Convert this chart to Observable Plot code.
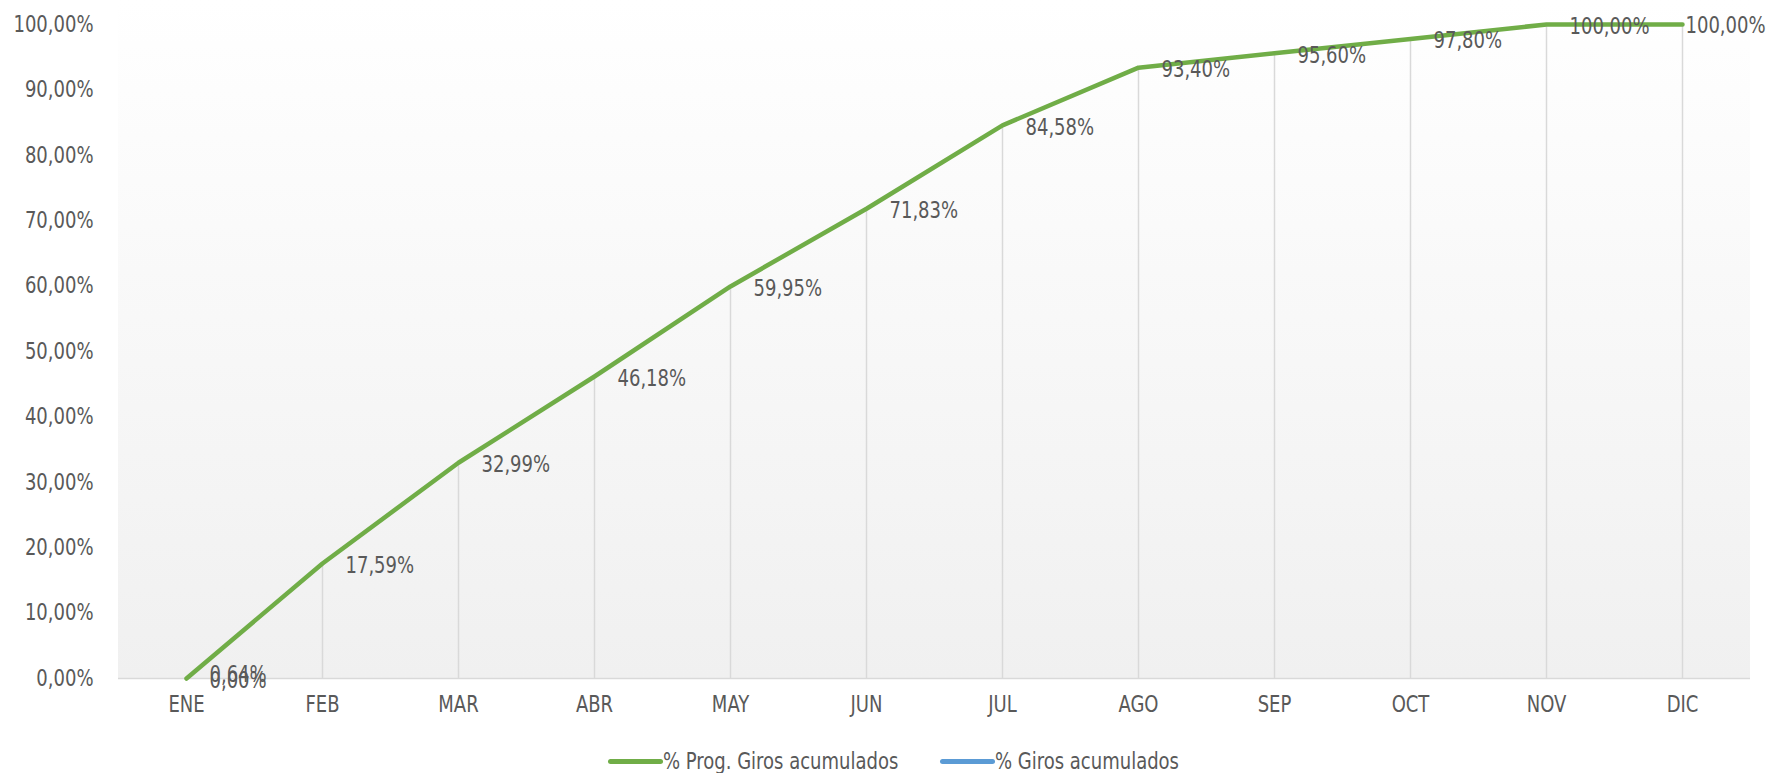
<!DOCTYPE html>
<html>
<head>
<meta charset="utf-8">
<script src="https://cdn.jsdelivr.net/npm/d3@7"></script>
<script src="https://cdn.jsdelivr.net/npm/@observablehq/plot@0.6"></script>
<style>
  html, body { margin: 0; padding: 0; background: #fff; }
  body { width: 1766px; height: 773px; overflow: hidden; position: relative; font-family: "DejaVu Sans Condensed", "DejaVu Sans", sans-serif; font-stretch: condensed; }
  svg text { font-stretch: condensed; }
  .item { position: absolute; top: 761px; transform: translateY(-50%); display: flex; align-items: center; white-space: nowrap; font-size: 23px; color: #595959; }
  .sw { width: 55px; height: 5px; border-radius: 2.5px; flex: none; }
  .tx { display: inline-block; transform: scaleX(0.87); transform-origin: left center; }
</style>
</head>
<body>
<div id="chart"></div>
<div id="legend"></div>
<script>
const months = ["ENE","FEB","MAR","ABR","MAY","JUN","JUL","AGO","SEP","OCT","NOV","DIC"];
const progValues = [0.00, 17.59, 32.99, 46.18, 59.95, 71.83, 84.58, 93.40, 95.60, 97.80, 100.00, 100.00];
const girosMonths = ["ENE"];
const girosValues = [0.64];
const yTicks = [0,10,20,30,40,50,60,70,80,90,100];
const seriesNames = ["% Prog. Giros acumulados", "% Giros acumulados"];
const seriesColors = ["#70ad47", "#5b9bd5"];

const prog = months.map((m, i) => ({month: m, value: progValues[i]}));
const giros = girosMonths.map((m, i) => ({month: m, value: girosValues[i]}));
const fmt = v => d3.format(".2f")(v).replace(".", ",") + "%";

const W = 1766, H = 725;
const FS = 23;

const background = (index, scales, values, dims) => {
  const g = d3.create("svg:g");
  const defs = g.append("defs");
  const lg = defs.append("linearGradient").attr("id", "bgGrad").attr("x1", 0).attr("y1", 0).attr("x2", 0).attr("y2", 1);
  lg.append("stop").attr("offset", "0%").attr("stop-color", "#ffffff");
  lg.append("stop").attr("offset", "100%").attr("stop-color", "#f0f0f0");
  g.append("rect")
    .attr("x", dims.marginLeft)
    .attr("y", 0)
    .attr("width", dims.width - dims.marginLeft - dims.marginRight)
    .attr("height", dims.height - dims.marginBottom)
    .attr("fill", "url(#bgGrad)");
  return g.node();
};

const lastMonth = months[months.length - 1];

const chart = Plot.plot({
  width: W,
  height: H,
  marginTop: 24,
  marginBottom: 47,
  marginLeft: 118,
  marginRight: 16,
  style: {fontFamily: "'DejaVu Sans Condensed', 'DejaVu Sans', sans-serif", fontSize: FS + "px", color: "#595959", background: "#fff"},
  x: {type: "point", domain: months, padding: 0.5, label: null},
  y: {domain: [0, 100], label: null},
  marks: [
    background,
    Plot.ruleY([0], {stroke: "#d9d9d9", strokeWidth: 1.5}),
    Plot.ruleX(prog, {x: "month", y1: 0, y2: "value", stroke: "#d9d9d9", strokeWidth: 1.5}),
    Plot.axisY({ticks: yTicks, tickSize: 0, tickPadding: 25, tickFormat: fmt, fontSize: FS, fill: "#595959"}),
    Plot.axisX({tickSize: 0, tickPadding: 17, fontSize: FS, fill: "#595959"}),
    Plot.line(giros, {x: "month", y: "value", stroke: seriesColors[1], strokeWidth: 4, strokeLinecap: "butt"}),
    Plot.line(prog, {x: "month", y: "value", stroke: seriesColors[0], strokeWidth: 4.5}),
    Plot.text(prog.filter(d => d.month !== lastMonth), {x: "month", y: "value", text: d => fmt(d.value), dx: 23, dy: 2, textAnchor: "start", fill: "#595959", fontSize: FS}),
    Plot.text(prog.filter(d => d.month === lastMonth), {x: "month", y: "value", text: d => fmt(d.value), dx: 3, dy: 1, textAnchor: "start", fill: "#595959", fontSize: FS}),
    Plot.text(giros, {x: "month", y: "value", text: d => fmt(d.value), dx: 23, dy: 0, textAnchor: "start", fill: "#595959", fontSize: FS})
  ]
});
// narrow the glyphs horizontally to mimic the reference's condensed face
chart.querySelectorAll("text").forEach(t => {
  const tr = t.getAttribute("transform") || "";
  t.setAttribute("transform", (tr + " scale(0.87,1)").trim());
});
document.getElementById("chart").appendChild(chart);

const legend = document.getElementById("legend");
const lx = [608, 940];
seriesNames.forEach((name, i) => {
  const it = document.createElement("div");
  it.className = "item";
  it.style.left = lx[i] + "px";
  const sw = document.createElement("span");
  sw.className = "sw";
  sw.style.background = seriesColors[i];
  const tx = document.createElement("span");
  tx.className = "tx";
  tx.textContent = name;
  it.appendChild(sw);
  it.appendChild(tx);
  legend.appendChild(it);
});
</script>
</body>
</html>
